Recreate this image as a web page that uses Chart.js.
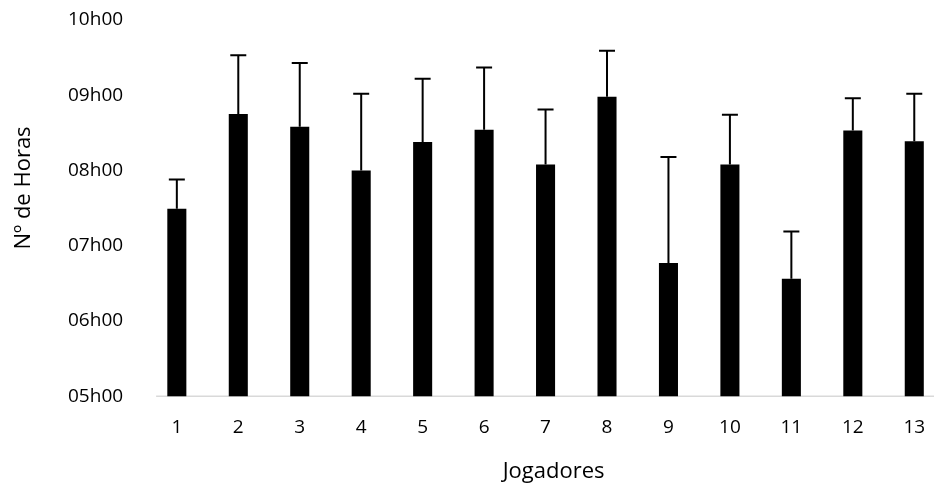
<!DOCTYPE html>
<html lang="pt">
<head>
<meta charset="UTF-8">
<title>Horas de sono por jogador</title>
<style>
    body { margin: 0; overflow: hidden; background: #fff; }
    #box { width: 952px; height: 491px; position: relative; }
</style>
</head>
<body>
<div id="box">
    <canvas id="sleepChart"></canvas>
</div>
<script src="https://cdn.jsdelivr.net/npm/chart.js"></script>
<script>
    // players and mean hours (decimal hours), plus the upward error (SD)
    const players = ['1','2','3','4','5','6','7','8','9','10','11','12','13'];
    const meanHours = [7.49, 8.75, 8.58, 8.00, 8.38, 8.54, 8.08, 8.98, 6.77, 8.08, 6.56, 8.53, 8.39];
    const sdHours = [0.39, 0.78, 0.85, 1.02, 0.84, 0.83, 0.73, 0.61, 1.41, 0.66, 0.63, 0.43, 0.63];
    const yTicks = [5, 6, 7, 8, 9, 10];
    const xTitle = 'Jogadores';
    const yTitle = 'Nº de Horas';

    const font = "'Open Sans', 'Noto Sans', sans-serif";

    // draws the error bars (up only, with a cap) on top of the bars
    const errorBars = {
        id: 'errorBars',
        afterDatasetsDraw(chart) {
            const ctx = chart.ctx;
            const meta = chart.getDatasetMeta(0);
            const yScale = chart.scales.y;
            ctx.save();
            ctx.strokeStyle = '#000';
            ctx.lineWidth = 2;
            meta.data.forEach((bar, i) => {
                const yTop = yScale.getPixelForValue(meanHours[i] + sdHours[i]);
                ctx.beginPath();
                ctx.moveTo(bar.x, bar.y);
                ctx.lineTo(bar.x, yTop);
                ctx.moveTo(bar.x - 8, yTop);
                ctx.lineTo(bar.x + 8, yTop);
                ctx.stroke();
            });
            ctx.restore();
        }
    };

    // axis titles and the base line sit a bit off-centre in the original, so place them by hand
    const axisTitles = {
        id: 'axisTitles',
        beforeDatasetsDraw(chart) {
            const ctx = chart.ctx;
            const area = chart.chartArea;
            const y0 = chart.scales.y.getPixelForValue(yTicks[0]);
            ctx.save();
            ctx.strokeStyle = '#d9d9d9';
            ctx.lineWidth = 1.5;
            ctx.beginPath();
            ctx.moveTo(area.left + 10, y0);
            ctx.lineTo(area.right, y0);
            ctx.stroke();
            ctx.restore();
        },
        afterDraw(chart) {
            const ctx = chart.ctx;
            const area = chart.chartArea;
            ctx.save();
            ctx.fillStyle = '#000';
            ctx.font = '22px ' + font;
            ctx.textAlign = 'center';
            ctx.textBaseline = 'middle';
            ctx.fillText(xTitle, (area.left + area.right) / 2 + 8, 472);
            ctx.translate(24, 188);
            ctx.rotate(-Math.PI / 2);
            ctx.fillText(yTitle, 0, 0);
            ctx.restore();
        }
    };

    new Chart(document.getElementById('sleepChart'), {
        type: 'bar',
        data: {
            labels: players,
            datasets: [{
                label: yTitle,
                data: meanHours,
                backgroundColor: '#000',
                borderWidth: 0,
                barPercentage: 0.31,
                categoryPercentage: 1
            }]
        },
        options: {
            responsive: true,
            maintainAspectRatio: false,
            animation: false,
            layout: { padding: { top: 20, left: 45, right: 7, bottom: 32 } },
            plugins: {
                legend: { display: false },
                tooltip: { enabled: false }
            },
            scales: {
                x: {
                    grid: { display: false, drawTicks: false },
                    border: { display: false },
                    ticks: { color: '#000', font: { family: font, size: 19 }, padding: 20 }
                },
                y: {
                    min: 5, max: 10,
                    afterBuildTicks: (scale) => { scale.ticks = yTicks.map(v => ({ value: v })); },
                    afterFit: (scale) => { scale.paddingTop = 0; },
                    grid: { display: false, drawTicks: false },
                    border: { display: false },
                    ticks: {
                        color: '#000', font: { family: font, size: 19 }, padding: 23,
                        callback: (v) => String(v).padStart(2, '0') + 'h00'
                    }
                }
            }
        },
        plugins: [errorBars, axisTitles]
    });
</script>
</body>
</html>
